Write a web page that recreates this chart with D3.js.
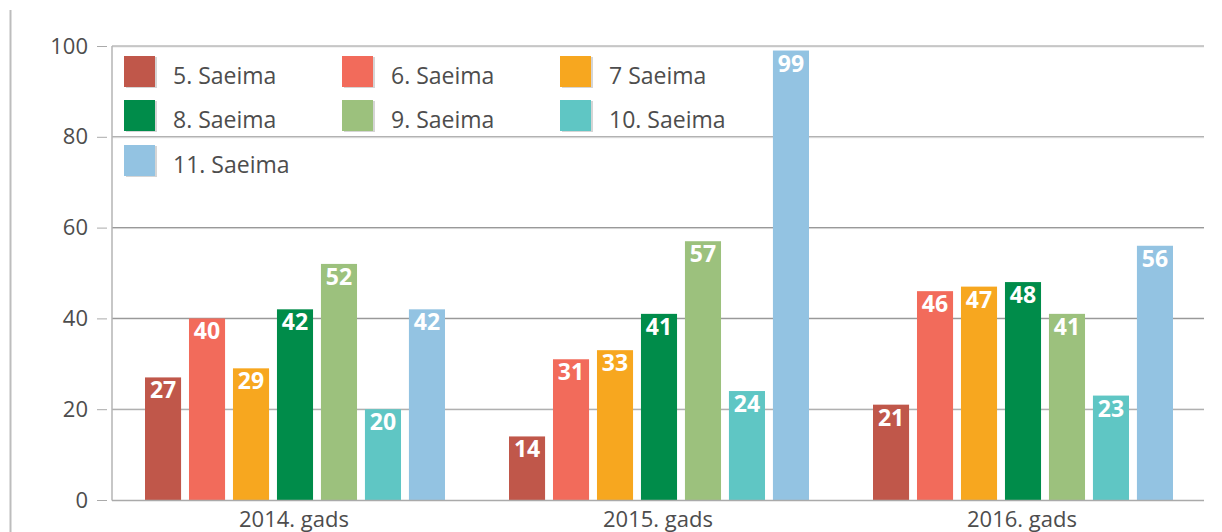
<!DOCTYPE html>
<html><head><meta charset="utf-8">
<script src="https://cdn.jsdelivr.net/npm/d3@7"></script>
<style>body{margin:0;background:#fff}svg{display:block}</style>
</head><body>
<svg id="c" width="1222" height="532"></svg>
<script>
const years = ["2014. gads", "2015. gads", "2016. gads"];
const seriesNames = ["5. Saeima", "6. Saeima", "7 Saeima", "8. Saeima", "9. Saeima", "10. Saeima", "11. Saeima"];
const seriesColors = ["#c0574a", "#f26b5b", "#f7a71f", "#008c4a", "#9cc17d", "#5fc6c4", "#93c3e2"];
const s5 = [27, 14, 21];
const s6 = [40, 31, 46];
const s7 = [29, 33, 47];
const s8 = [42, 41, 48];
const s9 = [52, 57, 41];
const s10 = [20, 24, 23];
const s11 = [42, 99, 56];
const yTicks = [0, 20, 40, 60, 80, 100];

const allSeries = [s5, s6, s7, s8, s9, s10, s11];
const svg = d3.select("#c");
const font = "'Open Sans', 'Noto Sans', sans-serif";

const x0 = d3.scaleBand().domain(years).range([112, 1204]).paddingInner(0).paddingOuter(0);
const x1 = d3.scaleBand().domain(seriesNames).range([33, 333]).paddingInner(0.18).paddingOuter(0);
const y = d3.scaleLinear().domain([0, 100]).range([500, 46]);

// left frame line
svg.append("line").attr("x1", 10.5).attr("x2", 10.5).attr("y1", 10).attr("y2", 532)
  .attr("stroke", "#bdbdbd").attr("stroke-width", 2);

// gridlines
const grid = svg.append("g");
yTicks.filter(t => t > 0).forEach(t => {
  grid.append("line").attr("x1", 112).attr("x2", 1204).attr("y1", y(t) + 1).attr("y2", y(t) + 1)
    .attr("stroke", "#e6e6e6").attr("stroke-width", 1);
  grid.append("line").attr("x1", 112).attr("x2", 1204).attr("y1", y(t)).attr("y2", y(t))
    .attr("stroke", "#999").attr("stroke-width", 1.1);
});

// y axis
const yAxis = d3.axisLeft(y).tickValues(yTicks).tickSize(10).tickPadding(9);
const ga = svg.append("g").attr("transform", "translate(107,0)").call(yAxis);
ga.select(".domain").remove();
ga.selectAll(".tick line").attr("stroke", "#aaa");
ga.selectAll(".tick text").attr("font-family", font).attr("font-size", 22).attr("fill", "#4d4d4d");
svg.append("line").attr("x1", 112).attr("x2", 112).attr("y1", y(100)).attr("y2", 500.5)
  .attr("stroke", "#b5b5b5").attr("stroke-width", 1.5);

// bars
const bars = svg.append("g");
years.forEach((yr, i) => {
  const g = bars.append("g").attr("transform", `translate(${x0(yr)},0)`);
  seriesNames.forEach((s, j) => {
    const v = allSeries[j][i];
    g.append("rect").attr("x", x1(s)).attr("y", y(v)).attr("width", x1.bandwidth())
      .attr("height", y(0) - y(v)).attr("fill", seriesColors[j]);
    g.append("text").attr("x", x1(s) + x1.bandwidth() / 2).attr("y", y(v) + 21)
      .attr("text-anchor", "middle").attr("font-family", font).attr("font-weight", "bold")
      .attr("font-size", 23).attr("fill", "#fff").text(v);
  });
});

// baseline
svg.append("line").attr("x1", 112).attr("x2", 1204).attr("y1", 500.5).attr("y2", 500.5)
  .attr("stroke", "#aaa").attr("stroke-width", 1.5);

// x labels
const xAxis = d3.axisBottom(x0).tickSize(0).tickPadding(9);
const gx = svg.append("g").attr("transform", "translate(0,502)").call(xAxis);
gx.select(".domain").remove();
gx.selectAll(".tick text").attr("font-family", font).attr("font-size", 22).attr("fill", "#4d4d4d");

// legend
const legX = [124, 342, 560];
const legY = [56, 100, 145];
const leg = svg.append("g");
seriesNames.forEach((s, j) => {
  const cx = legX[j % 3], cy = legY[Math.floor(j / 3)];
  leg.append("rect").attr("x", cx + 2).attr("y", cy + 1).attr("width", 31).attr("height", 31).attr("fill", "#d5d5d5");
  leg.append("rect").attr("x", cx).attr("y", cy).attr("width", 31).attr("height", 31).attr("fill", seriesColors[j]);
  leg.append("text").attr("x", cx + 49).attr("y", cy + 28).attr("font-family", font)
    .attr("font-size", 23).attr("fill", "#4d4d4d").text(s);
});
</script>
</body></html>
